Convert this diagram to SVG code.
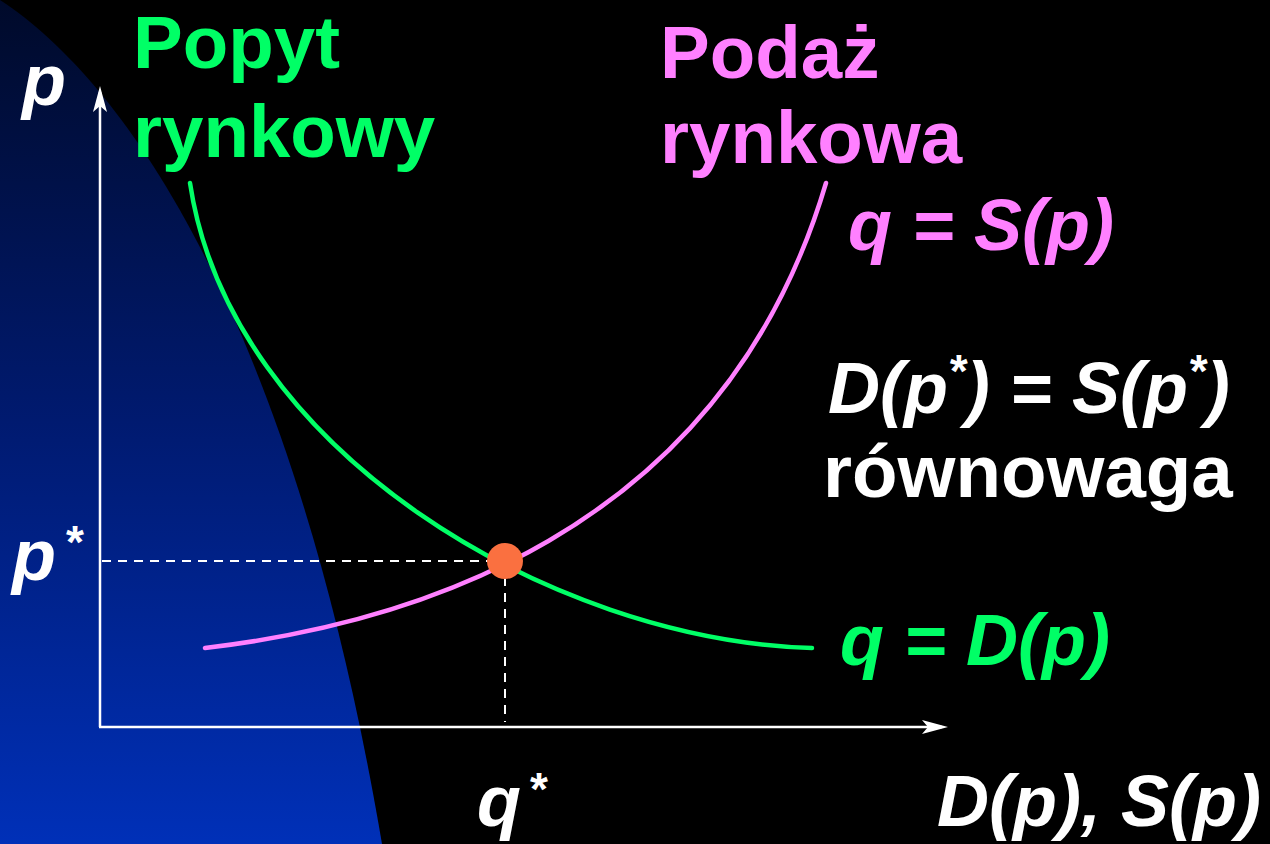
<svg xmlns="http://www.w3.org/2000/svg" width="1270" height="844" viewBox="0 0 1270 844">
<defs>
<linearGradient id="bg" x1="0" y1="0" x2="0" y2="1">
<stop offset="0" stop-color="#000a2a"/>
<stop offset="0.5" stop-color="#001a70"/>
<stop offset="1" stop-color="#0030b8"/>
</linearGradient>
<style>
.t{font-family:"Liberation Sans",Arial,sans-serif;font-weight:bold;font-size:72px}
.L{font-size:74.5px}
.i{font-style:italic}
.sup{font-size:46px}
.g{fill:#00ff66}
.m{fill:#ff80ff}
.w{fill:#ffffff}
.axis{stroke:#ffffff;stroke-width:2.5;fill:none}
.dash{stroke:#ffffff;stroke-width:2;stroke-dasharray:9 7;fill:none}
.curve{fill:none;stroke-width:4.5;stroke-linecap:round}
</style>
</defs>
<rect width="1270" height="844" fill="#000000"/>
<path d="M0,0 C130,85 295,330 382,844 L0,844 Z" fill="url(#bg)"/>
<g id="axes">
<line class="axis" x1="100" y1="727" x2="100" y2="92"/>
<polygon points="100,86 107,112 100,106 93,112" fill="#ffffff"/>
<line class="axis" x1="99" y1="727" x2="942" y2="727"/>
<polygon points="948,727 922,734 928,727 922,720" fill="#ffffff"/>
</g>
<g id="connectors">
<path class="dash" d="M102,561 H505"/>
<path class="dash" d="M505,561 V722"/>
<path id="demand" class="curve" stroke="#00ff66" d="M190,183 C230,450 550,640 812,648"/>
<path id="supply" class="curve" stroke="#ff80ff" d="M205,648 C400,625 720,540 826,183"/>
</g>
<g id="equilibrium"><circle cx="505" cy="561" r="18" fill="#fa7040"/></g>
<g id="label-popyt"><text class="t L g" x="133" y="68">Popyt</text><text class="t L g" x="133" y="157">rynkowy</text></g>
<g id="label-podaz"><text class="t L m" x="660" y="78">Podaż</text><text class="t L m" x="660" y="163">rynkowa</text></g>
<g id="label-qs"><text class="t i m" x="848" y="250">q = S(p)</text></g>
<g id="label-eq"><text class="t i w" x="828" y="413">D(p<tspan class="sup" dy="-26">*</tspan><tspan dy="26">) = S(p</tspan><tspan class="sup" dy="-26">*</tspan><tspan dy="26">)</tspan></text>
<text class="t L w" x="823" y="497">równowaga</text></g>
<g id="label-qd"><text class="t i g" x="840" y="665">q = D(p)</text></g>
<g id="label-x"><text class="t i w" x="937" y="826">D(p), S(p)</text></g>
<g id="label-p"><text class="t i w" x="22" y="105">p</text></g>
<g id="label-pstar"><text class="t i w" x="12" y="580">p</text><text class="t w sup" x="66" y="558">*</text></g>
<g id="label-qstar"><text class="t i w" x="477" y="826">q</text><text class="t w sup" x="530" y="805">*</text></g>
</svg>
